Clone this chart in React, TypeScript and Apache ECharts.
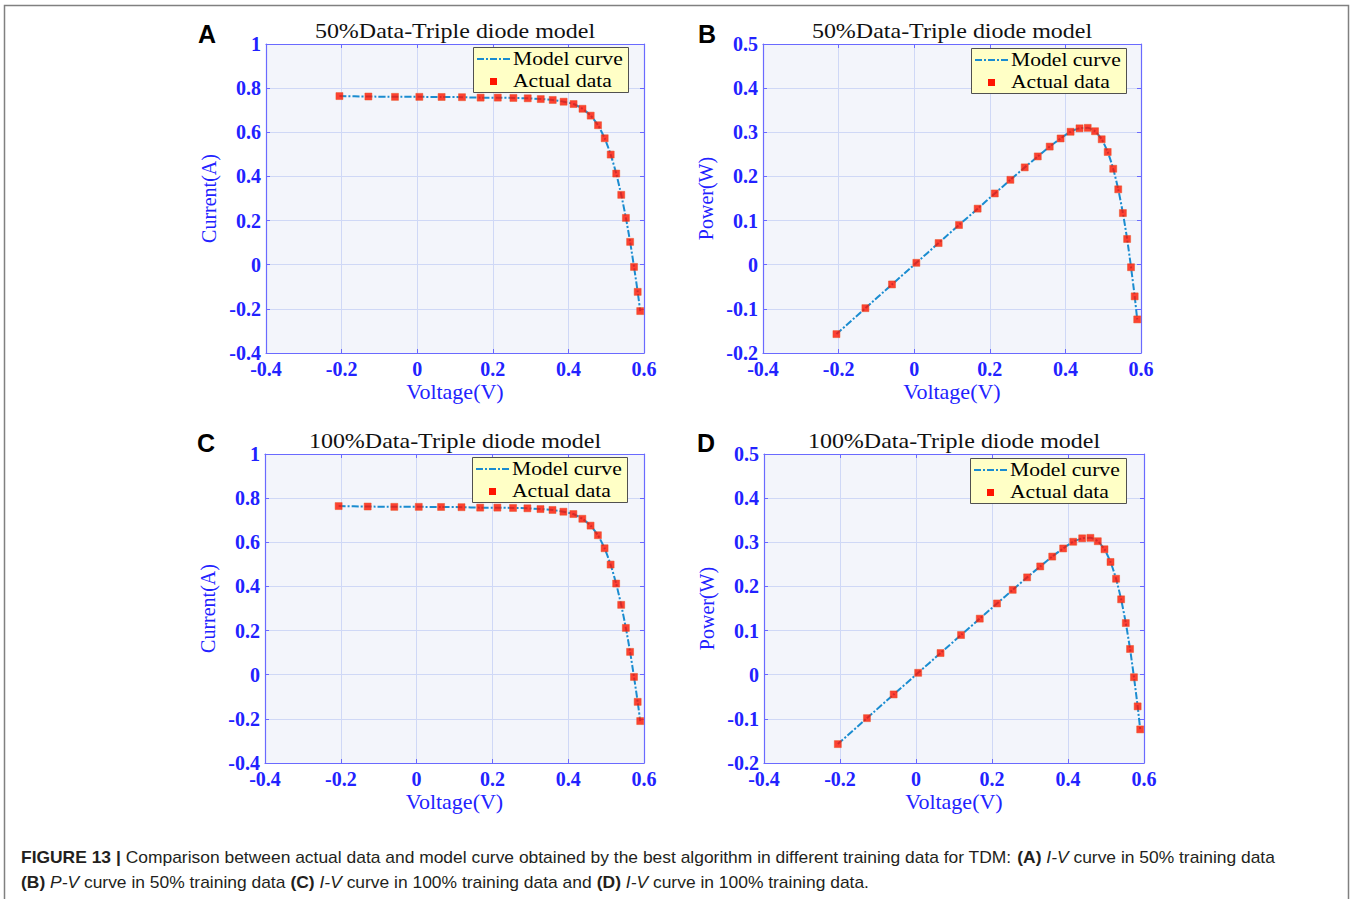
import React, { useEffect, useRef } from "react";
import * as echarts from "echarts";

// ---- Data ----
const voltage = [
  -0.2057, -0.1291, -0.0588, 0.0057, 0.0646, 0.1185, 0.1678, 0.2132, 0.2545,
  0.2924, 0.3269, 0.3585, 0.3873, 0.4137, 0.4373, 0.459, 0.4784, 0.496,
  0.5119, 0.5265, 0.5398, 0.5521, 0.5633, 0.5736, 0.5833, 0.59,
];
const current50 = [
  0.764, 0.762, 0.7605, 0.7605, 0.76, 0.759, 0.757, 0.757, 0.7555, 0.754,
  0.7505, 0.7465, 0.7385, 0.728, 0.7065, 0.6755, 0.632, 0.573, 0.499, 0.413,
  0.3165, 0.212, 0.1035, -0.01, -0.123, -0.21,
];
const power50 = [
  -0.1572, -0.0984, -0.0447, 0.0043, 0.0491, 0.0899, 0.127, 0.1614, 0.1923,
  0.2205, 0.2453, 0.2676, 0.286, 0.3012, 0.309, 0.31, 0.3024, 0.2842, 0.2554,
  0.2174, 0.1708, 0.117, 0.0583, -0.0057, -0.0717, -0.1239,
];
const current100 = [
  0.764, 0.762, 0.7605, 0.7605, 0.76, 0.759, 0.757, 0.757, 0.7555, 0.754,
  0.7505, 0.7465, 0.7385, 0.728, 0.7065, 0.6755, 0.632, 0.573, 0.499, 0.413,
  0.3165, 0.212, 0.1035, -0.01, -0.123, -0.21,
];
const power100 = [
  -0.1572, -0.0984, -0.0447, 0.0043, 0.0491, 0.0899, 0.127, 0.1614, 0.1923,
  0.2205, 0.2453, 0.2676, 0.286, 0.3012, 0.309, 0.31, 0.3024, 0.2842, 0.2554,
  0.2174, 0.1708, 0.117, 0.0583, -0.0057, -0.0717, -0.1239,
];

const panelLetters = ["A", "B", "C", "D"];
const panelTitles = [
  "50%Data-Triple diode model",
  "50%Data-Triple diode model",
  "100%Data-Triple diode model",
  "100%Data-Triple diode model",
];
const yNames = ["Current(A)", "Power(W)", "Current(A)", "Power(W)"];
const xName = "Voltage(V)";
const seriesY = [current50, power50, current100, power100];
const legendNames = ["Model curve", "Actual data"];
const yRanges = [
  { min: -0.4, max: 1, interval: 0.2 },
  { min: -0.2, max: 0.5, interval: 0.1 },
  { min: -0.4, max: 1, interval: 0.2 },
  { min: -0.2, max: 0.5, interval: 0.1 },
];
const xRange = { min: -0.4, max: 0.6, interval: 0.2 };

const captionLine1 =
  "{b|FIGURE 13 |} Comparison between actual data and model curve obtained by the best algorithm in different training data for TDM: {b|(A)} {i|I-V} curve in 50% training data";
const captionLine2 =
  "{b|(B)} {i|P-V} curve in 50% training data {b|(C)} {i|I-V} curve in 100% training data and {b|(D)} {i|I-V} curve in 100% training data.";

// ---- Layout ----
const grids = [
  { left: 266, top: 44, width: 378, height: 309 },
  { left: 763, top: 44, width: 378, height: 309 },
  { left: 265, top: 454, width: 379, height: 309 },
  { left: 764, top: 454, width: 380, height: 309 },
];
const legendBox = [
  { x: 473, y: 47, w: 155, h: 45 },
  { x: 971, y: 48, w: 155, h: 45 },
  { x: 472, y: 457, w: 155, h: 45 },
  { x: 970, y: 458, w: 156, h: 45 },
];
const letterPos = [
  { x: 207, y: 34 },
  { x: 707, y: 34 },
  { x: 206, y: 443 },
  { x: 706, y: 443 },
];
const titlePos = [
  { x: 455, y: 31 },
  { x: 952, y: 31 },
  { x: 455, y: 441 },
  { x: 954, y: 441 },
];

const SERIF = '"Liberation Serif", "Times New Roman", serif';
const SANS = '"Liberation Sans", Arial, Helvetica, sans-serif';
const BLUE = "#2222ff";
const AXIS_BLUE = "#6a6aff";
const LINE_COLOR = "#1a8cd0";
const MARK_COLOR = "#ff1400";
const MARK_BORDER = "#e8501e";
const DASH = [7, 2, 2, 2];

export default function App() {
  const ref = useRef<HTMLDivElement>(null);

  useEffect(() => {
    if (!ref.current) return;
    const chart = echarts.init(ref.current, undefined, { renderer: "svg" });

    const xAxes: any[] = [];
    const yAxes: any[] = [];
    const series: any[] = [];
    const graphics: any[] = [];

    grids.forEach((g, k) => {
      xAxes.push({
        type: "value",
        gridIndex: k,
        position: "bottom",
        ...xRange,
        name: xName,
        nameLocation: "middle",
        nameGap: 27,
        nameTextStyle: { color: BLUE, fontFamily: SERIF, fontSize: 22 },
        axisLine: { show: true, onZero: false, lineStyle: { color: AXIS_BLUE, width: 1.2 } },
        axisTick: { show: true, inside: true, length: 4, lineStyle: { color: AXIS_BLUE } },
        axisLabel: {
          color: BLUE,
          fontFamily: SERIF,
          fontSize: 20,
          fontWeight: "bold",
          margin: 6,
        },
        splitLine: { show: true, lineStyle: { color: "#cfd8f6", width: 1 } },
      });
      yAxes.push({
        type: "value",
        gridIndex: k,
        position: "left",
        ...yRanges[k],
        name: yNames[k],
        nameLocation: "middle",
        nameGap: 47,
        nameRotate: 90,
        nameTextStyle: { color: BLUE, fontFamily: SERIF, fontSize: 20 },
        axisLine: { show: true, onZero: false, lineStyle: { color: AXIS_BLUE, width: 1.2 } },
        axisTick: { show: true, inside: true, length: 4, lineStyle: { color: AXIS_BLUE } },
        axisLabel: {
          color: BLUE,
          fontFamily: SERIF,
          fontSize: 20,
          fontWeight: "bold",
          margin: 5,
        },
        splitLine: { show: true, lineStyle: { color: "#cfd8f6", width: 1 } },
      });
    });
    grids.forEach((g, k) => {
      xAxes.push({
        type: "value",
        gridIndex: k,
        position: "top",
        ...xRange,
        axisLine: { show: true, onZero: false, lineStyle: { color: AXIS_BLUE, width: 1.2 } },
        axisTick: { show: true, inside: true, length: 4, lineStyle: { color: AXIS_BLUE } },
        axisLabel: { show: false },
        splitLine: { show: false },
      });
      yAxes.push({
        type: "value",
        gridIndex: k,
        position: "right",
        ...yRanges[k],
        axisLine: { show: true, onZero: false, lineStyle: { color: AXIS_BLUE, width: 1.2 } },
        axisTick: { show: true, inside: true, length: 4, lineStyle: { color: AXIS_BLUE } },
        axisLabel: { show: false },
        splitLine: { show: false },
      });
    });

    grids.forEach((g, k) => {
      const pts = voltage.map((v, i) => [v, seriesY[k][i]]);
      series.push({
        type: "line",
        name: legendNames[0],
        xAxisIndex: k,
        yAxisIndex: k,
        data: pts,
        symbol: "none",
        showSymbol: false,
        smooth: 0.2,
        lineStyle: { color: LINE_COLOR, width: 2, type: DASH },
        itemStyle: { color: LINE_COLOR },
        z: 2,
      });
      series.push({
        type: "scatter",
        name: legendNames[1],
        xAxisIndex: k,
        yAxisIndex: k,
        data: pts,
        symbol: "rect",
        symbolSize: 7,
        itemStyle: { color: MARK_COLOR, borderColor: MARK_BORDER, borderWidth: 0.6 },
        z: 3,
      });

      // legend box (drawn manually so the marker keeps its square shape)
      const b = legendBox[k];
      const row1 = b.y + 12;
      const row2 = b.y + 34;
      graphics.push({
        type: "rect",
        z: 20,
        shape: { x: b.x + 0.5, y: b.y + 0.5, width: b.w, height: b.h },
        style: { fill: "#ffffc6", stroke: "#505050", lineWidth: 1 },
      });
      graphics.push({
        type: "line",
        z: 21,
        shape: { x1: b.x + 4, y1: row1, x2: b.x + 37, y2: row1 },
        style: { stroke: LINE_COLOR, lineWidth: 2, lineDash: DASH },
      });
      graphics.push({
        type: "rect",
        z: 21,
        shape: { x: b.x + 17, y: row2 - 3, width: 7, height: 7 },
        style: { fill: MARK_COLOR },
      });
      legendNames.forEach((nm, j) => {
        graphics.push({
          type: "text",
          z: 21,
          x: b.x + 40,
          y: j === 0 ? row1 : row2,
          scaleX: 1.2,
          style: {
            text: nm,
            fill: "#000",
            font: `18px ${SERIF}`,
            align: "left",
            verticalAlign: "middle",
          },
        });
      });

      graphics.push({
        type: "text",
        x: letterPos[k].x,
        y: letterPos[k].y,
        style: {
          text: panelLetters[k],
          fill: "#000",
          font: `bold 25px ${SANS}`,
          align: "center",
          verticalAlign: "middle",
        },
      });
      graphics.push({
        type: "text",
        x: titlePos[k].x,
        y: titlePos[k].y,
        scaleX: 1.2,
        style: {
          text: panelTitles[k],
          fill: "#111",
          font: `20px ${SERIF}`,
          align: "center",
          verticalAlign: "middle",
        },
      });
    });

    graphics.push({
      type: "polyline",
      shape: {
        points: [
          [4.5, 905],
          [4.5, 5.5],
          [1348.5, 5.5],
          [1348.5, 905],
        ],
      },
      style: { stroke: "#808080", lineWidth: 1.5, fill: "none" },
      z: 10,
    });

    const capRich = {
      b: { fontFamily: SANS, fontSize: 16, fontWeight: "bold", fill: "#231f20" },
      i: { fontFamily: SANS, fontSize: 16, fontStyle: "italic", fill: "#231f20" },
    };
    [captionLine1, captionLine2].forEach((t, j) => {
      graphics.push({
        type: "text",
        x: 21,
        y: 858 + j * 25,
        scaleX: 1.09,
        style: {
          text: t,
          rich: capRich,
          fill: "#231f20",
          font: `16px ${SANS}`,
          fontFamily: SANS,
          fontSize: 16,
          verticalAlign: "middle",
        },
      });
    });

    chart.setOption({
      animation: false,
      backgroundColor: "#ffffff",
      grid: grids.map((g) => ({
        ...g,
        show: true,
        backgroundColor: "#f3f5fb",
        borderWidth: 0,
        containLabel: false,
      })),
      xAxis: xAxes,
      yAxis: yAxes,
      series,
      graphic: graphics,
    });

    return () => chart.dispose();
  }, []);

  return (
    <div
      ref={ref}
      style={{ position: "absolute", left: 0, top: 0, width: 1352, height: 899 }}
    />
  );
}
